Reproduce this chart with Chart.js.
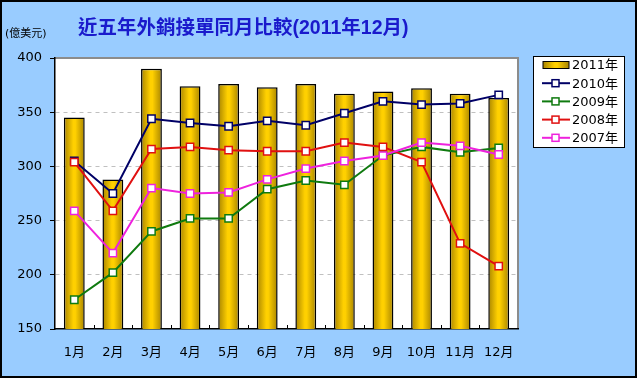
<!DOCTYPE html>
<html>
<head>
<meta charset="utf-8">
<script src="https://cdn.jsdelivr.net/npm/chart.js@4/dist/chart.umd.min.js"></script>
<style>
  html, body { margin: 0; padding: 0; background: #99ccff; }
  #wrap { width: 637px; height: 378px; }
</style>
</head>
<body>
<div id="wrap"><canvas id="chart" width="637" height="378"></canvas></div>
<script>
const months = ['1月', '2月', '3月', '4月', '5月', '6月', '7月', '8月', '9月', '10月', '11月', '12月'];
const yTicks = [150, 200, 250, 300, 350, 400];

const orders2011 = [345, 288, 390, 374, 376, 373, 376, 367, 369, 372, 367, 363];
const orders2010 = [305, 275, 344, 340, 337, 342, 338, 349, 360, 357, 358, 366];
const orders2009 = [177, 202, 240, 252, 252, 279, 287, 283, 310, 318, 313, 317];
const orders2008 = [304, 259, 316, 318, 315, 314, 314, 322, 318, 304, 229, 208];
const orders2007 = [259, 220, 280, 275, 276, 288, 298, 305, 310, 322, 319, 311];

const titleText = '近五年外銷接單同月比較(2011年12月)';
const unitText = '(億美元)';
const fontStack = '"DejaVu Sans", "Noto Sans CJK TC", sans-serif';

function goldGradient(ctx, x0, x1) {
  const g = ctx.createLinearGradient(x0, 0, x1, 0);
  g.addColorStop(0, '#a88400');
  g.addColorStop(0.45, '#ffd000');
  g.addColorStop(0.55, '#ffd000');
  g.addColorStop(1, '#a88400');
  return g;
}

// gradient for each bar, centred on its category
function barFill(context) {
  const chart = context.chart;
  const xScale = chart.scales.x;
  if (!xScale || context.dataIndex === undefined) return '#e6b800';
  const cx = xScale.getPixelForValue(context.dataIndex);
  if (!isFinite(cx)) return '#e6b800';
  const half = 10.5;
  return goldGradient(chart.ctx, cx - half, cx + half);
}

const lineStyle = (color) => ({
  type: 'line',
  borderColor: color,
  borderWidth: 2,
  pointStyle: 'rect',
  pointRadius: 5.2,
  pointHoverRadius: 5.2,
  pointBackgroundColor: '#ffffff',
  pointBorderColor: color,
  pointBorderWidth: 1.5,
  tension: 0,
  fill: false
});

const chartFrame = {
  id: 'chartFrame',
  beforeDraw(chart) {
    const { ctx, chartArea: a } = chart;
    ctx.save();
    ctx.fillStyle = '#99ccff';
    ctx.fillRect(0, 0, chart.width, chart.height);
    ctx.strokeStyle = '#000';
    ctx.lineWidth = 2;
    ctx.strokeRect(1, 1, chart.width - 2, chart.height - 2);
    ctx.fillStyle = '#ffffff';
    ctx.fillRect(a.left, a.top, a.right - a.left, a.bottom - a.top);
    ctx.strokeStyle = '#8c8c8c';
    ctx.lineWidth = 2;
    ctx.beginPath();
    ctx.moveTo(a.left, a.top);
    ctx.lineTo(a.right, a.top);
    ctx.lineTo(a.right, a.bottom);
    ctx.stroke();
    ctx.restore();
  },
  afterDraw(chart) {
    const { ctx, chartArea: a } = chart;
    const xScale = chart.scales.x;
    ctx.save();

    // small inward ticks between months
    ctx.strokeStyle = '#000';
    ctx.lineWidth = 1;
    ctx.beginPath();
    for (let i = 1; i < months.length; i++) {
      const x = Math.round((xScale.getPixelForValue(i - 1) + xScale.getPixelForValue(i)) / 2) + 0.5;
      ctx.moveTo(x, a.bottom - 4);
      ctx.lineTo(x, a.bottom);
    }
    ctx.stroke();

    // title and unit
    ctx.fillStyle = '#1a1acc';
    ctx.font = 'bold 19.5px "Liberation Sans", "Noto Sans CJK TC", sans-serif';
    ctx.textAlign = 'left';
    ctx.textBaseline = 'middle';
    ctx.fillText(titleText, 78, 29);

    ctx.fillStyle = '#000';
    ctx.font = '11px ' + fontStack;
    ctx.fillText(unitText, 5, 34);

    // legend
    const lx = 533, ly = 56, lw = 91, lh = 91;
    ctx.fillStyle = '#ffffff';
    ctx.fillRect(lx, ly, lw, lh);
    ctx.strokeStyle = '#000';
    ctx.lineWidth = 1;
    ctx.strokeRect(lx + 0.5, ly + 0.5, lw, lh);

    ctx.font = '13px ' + fontStack;
    chart.data.datasets.forEach((ds, i) => {
      const y = 65 + i * 18.2;
      if (ds.type === 'bar') {
        ctx.fillStyle = goldGradient(ctx, 543, 569);
        ctx.fillRect(543, y - 3.5, 26, 7);
        ctx.strokeStyle = '#000';
        ctx.lineWidth = 1;
        ctx.strokeRect(543, y - 3.5, 26, 7);
      } else {
        ctx.strokeStyle = ds.borderColor;
        ctx.lineWidth = 2;
        ctx.beginPath();
        ctx.moveTo(542, y);
        ctx.lineTo(570, y);
        ctx.stroke();
        ctx.fillStyle = '#fff';
        ctx.lineWidth = 1.5;
        ctx.fillRect(552, y - 3.5, 7, 7);
        ctx.strokeRect(552, y - 3.5, 7, 7);
      }
      ctx.fillStyle = '#000';
      ctx.textBaseline = 'middle';
      ctx.fillText(ds.label, 572, y + 1);
    });
    ctx.restore();
  }
};

const chartElement = document.getElementById('chart');
const ordersChart = new Chart(chartElement, {
  type: 'bar',
  data: {
    labels: months,
    datasets: [
      {
        type: 'bar',
        label: '2011年',
        data: orders2011,
        backgroundColor: barFill,
        borderColor: '#000',
        borderWidth: 1.5,
        barPercentage: 0.54,
        categoryPercentage: 1,
        order: 10
      },
      { label: '2010年', data: orders2010, order: 4, ...lineStyle('#000066') },
      { label: '2009年', data: orders2009, order: 3, ...lineStyle('#0f7a0f') },
      { label: '2008年', data: orders2008, order: 2, ...lineStyle('#e01010') },
      { label: '2007年', data: orders2007, order: 1, ...lineStyle('#ee22dd') }
    ]
  },
  options: {
    responsive: false,
    animation: false,
    layout: {
      padding: { left: 0, top: 58, right: 119, bottom: 0 }
    },
    scales: {
      x: {
        offset: true,
        grid: { display: false },
        border: { display: true, color: '#000', width: 1.5 },
        ticks: {
          color: '#000',
          padding: 8,
          font: { family: fontStack, size: 13 }
        },
        afterFit: (scale) => { scale.height = 49; }
      },
      y: {
        min: 150,
        max: 400,
        afterBuildTicks: (scale) => { scale.ticks = yTicks.map(v => ({ value: v })); },
        border: { display: true, color: '#000', width: 1.5, dash: [4, 4] },
        grid: {
          color: (c) => (c.tick && (c.tick.value === 150 || c.tick.value === 400)) ? 'rgba(0,0,0,0)' : '#c0c0c0',
          tickColor: '#000',
          tickLength: 5,
          tickBorderDash: []
        },
        ticks: {
          color: '#000',
          padding: 8,
          font: { family: fontStack, size: 13 }
        },
        afterFit: (scale) => { scale.width = 55; }
      }
    },
    plugins: {
      legend: { display: false },
      title: { display: false },
      tooltip: { enabled: false }
    }
  },
  plugins: [chartFrame]
});
</script>
</body>
</html>
